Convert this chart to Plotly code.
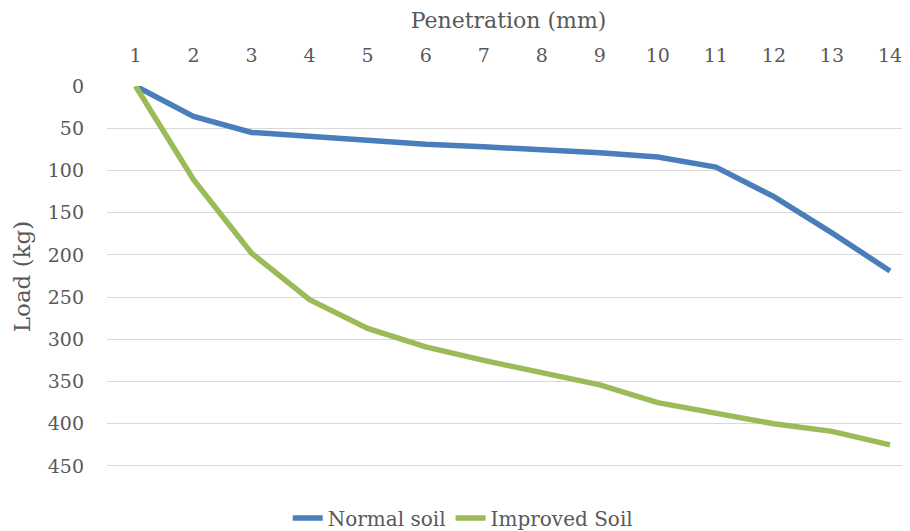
import plotly.graph_objects as go

penetration = [1, 2, 3, 4, 5, 6, 7, 8, 9, 10, 11, 12, 13, 14]
normal_soil = [0, 36, 55, 60, 64, 69, 72, 75, 79, 84, 96, 131, 174, 219]
improved_soil = [0, 111, 198, 253, 287, 309, 325, 339, 354, 375, 388, 400, 409, 425]
y_ticks = [0, 50, 100, 150, 200, 250, 300, 350, 400, 450]

FONT = "DejaVu Serif"
TXT = "#595959"

fig = go.Figure()
fig.add_trace(go.Scatter(x=penetration, y=normal_soil, mode="lines", name="Normal soil",
                         line=dict(color="#4a7ebb", width=5.5)))
fig.add_trace(go.Scatter(x=penetration, y=improved_soil, mode="lines", name="Improved Soil",
                         line=dict(color="#9bbb59", width=5.5)))

fig.update_layout(
    width=902, height=523,
    margin=dict(l=99, r=0, t=78, b=64, autoexpand=False),
    paper_bgcolor="white", plot_bgcolor="white",
    font=dict(family=FONT, size=19, color=TXT),
    showlegend=True,
    legend=dict(orientation="h", x=0.443, xanchor="center", y=-0.134, yanchor="middle",
                font=dict(family=FONT, size=20, color=TXT), itemwidth=30,
                traceorder="normal"),
    xaxis=dict(side="top", range=[0.509, 14.345], tickvals=penetration,
               ticktext=[str(v) for v in penetration], showgrid=False, zeroline=False,
               showline=False, ticks="", ticklabelstandoff=19,
               title=dict(text="Penetration (mm)", standoff=9,
                          font=dict(family=FONT, size=22, color=TXT)),
               tickfont=dict(family=FONT, size=19, color=TXT)),
    yaxis=dict(range=[451.2, 0], tickvals=y_ticks, showgrid=True, gridcolor="#d9d9d9",
               gridwidth=1.3, zeroline=False, showline=False, ticks="",
               ticklabelstandoff=22,
               title=dict(text="Load (kg)", standoff=10,
                          font=dict(family=FONT, size=23, color=TXT)),
               tickfont=dict(family=FONT, size=19, color=TXT)),
)

fig.write_html("out.html")
